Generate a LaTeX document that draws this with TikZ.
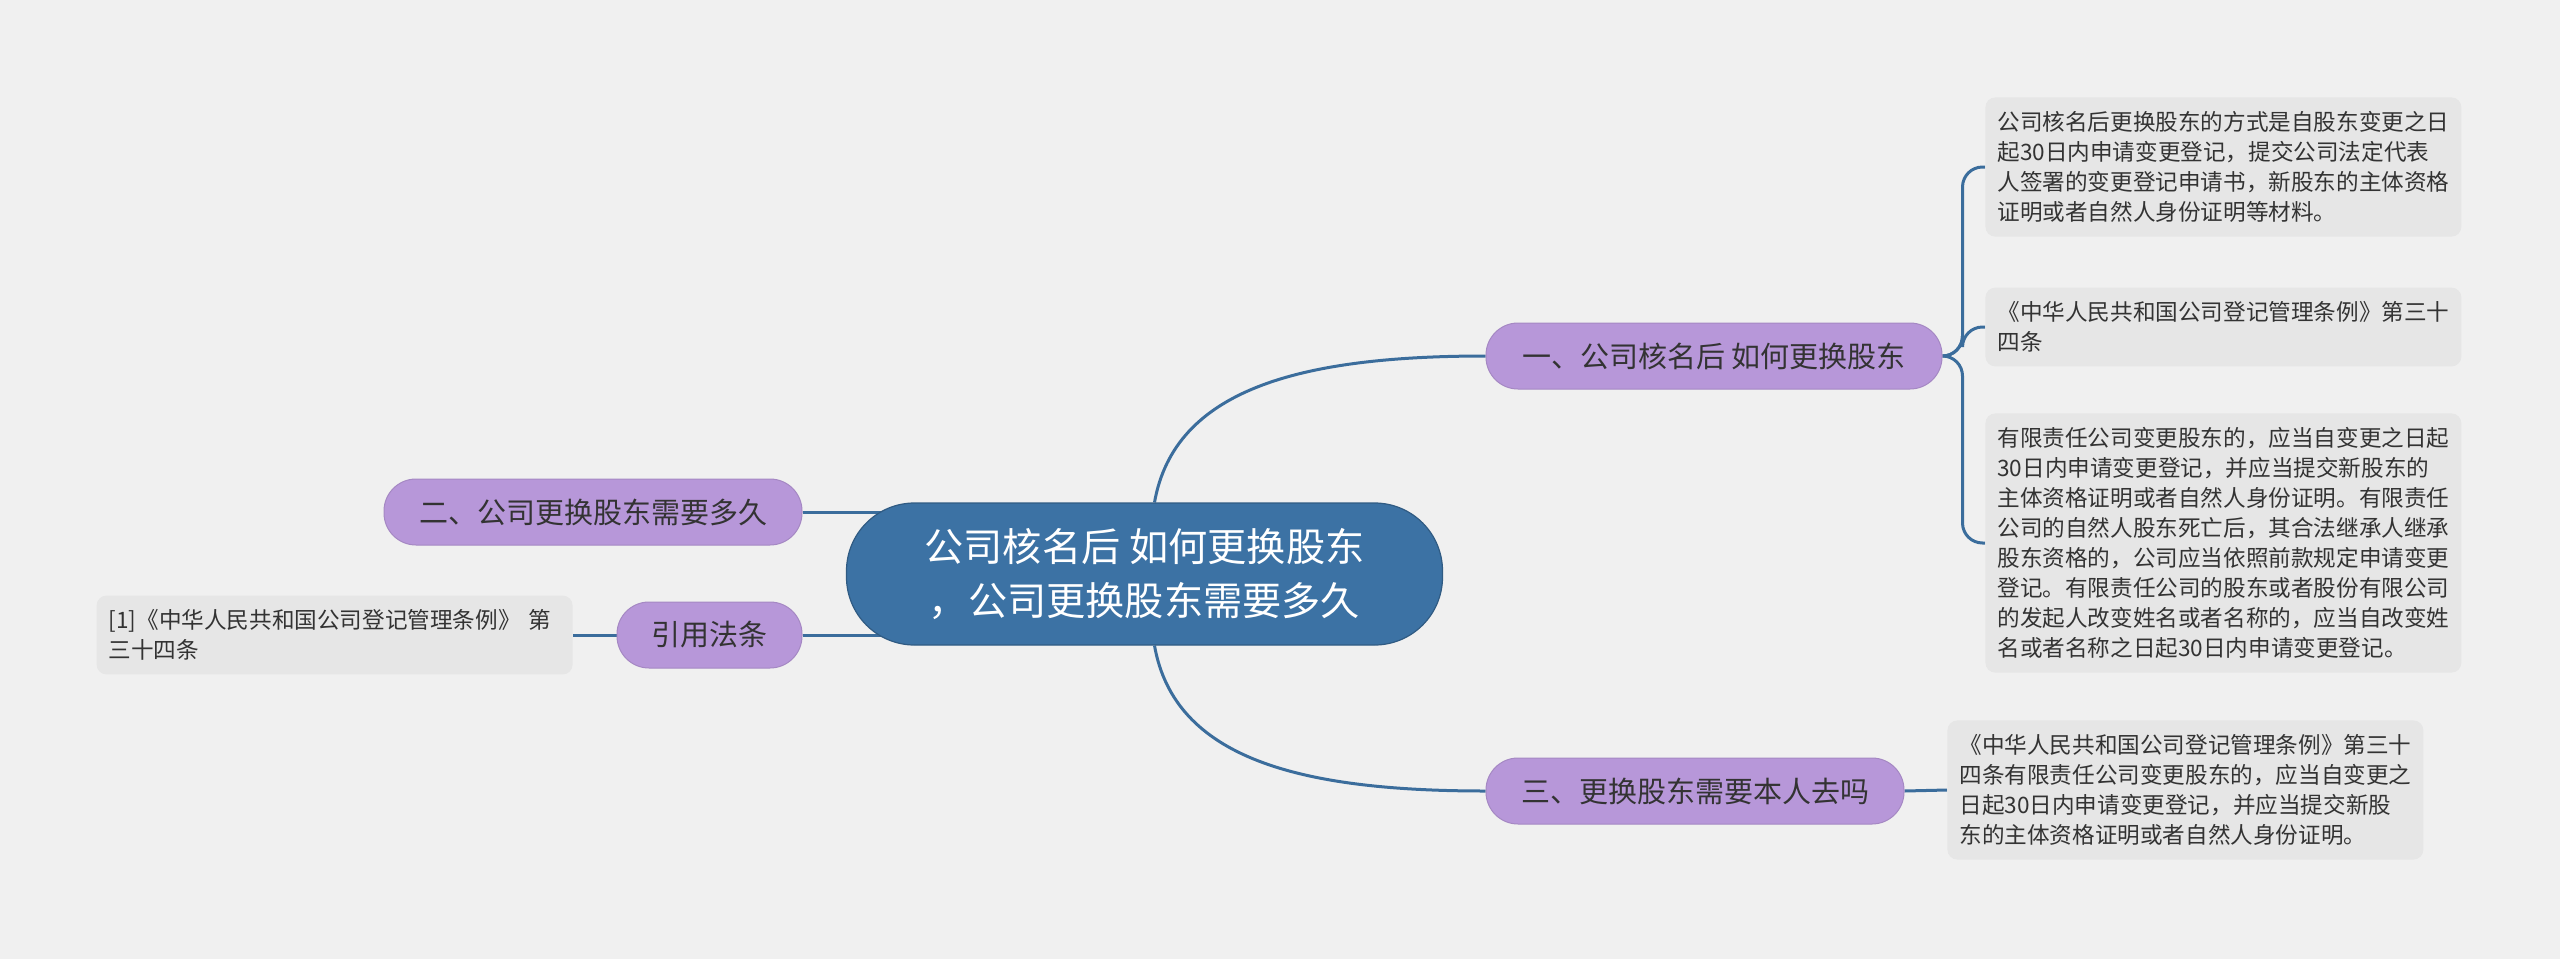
\documentclass[tikz,border=0pt]{standalone}
\usepackage{fontspec}
\setmainfont{Noto Sans CJK SC}
\usetikzlibrary{backgrounds}

\definecolor{bgcol}{HTML}{F0F0F0}
\definecolor{leafcol}{HTML}{E6E6E6}
\definecolor{topiccol}{HTML}{B797D9}
\definecolor{rootcol}{HTML}{3C72A4}
\definecolor{linkcol}{HTML}{3B6D9C}
\definecolor{txtcol}{HTML}{333333}

\begin{document}
\begin{tikzpicture}[x=0.5pt, y=-0.5pt,
  rootbox/.style={fill=rootcol, draw=rootcol!80!black, line width=0.6pt,
    rounded corners=34pt, minimum width=298pt, minimum height=71pt,
    text=white, align=center, font=\fontsize{19.6}{27}\selectfont},
  topic/.style={fill=topiccol, draw=topiccol!90!black, line width=0.5pt,
    rounded corners=16pt, minimum height=33pt, text=txtcol,
    font=\fontsize{14.5}{18}\selectfont},
  leaf/.style={fill=leafcol, rounded corners=5pt, text=txtcol, align=left,
    text width=226pt, inner xsep=6pt, inner ysep=7pt,
    font=\fontsize{11.3}{15}\selectfont},
  link/.style={draw=linkcol, line width=1.5pt}]
  \useasboundingbox (0,0) rectangle (2560,959);

  % Root
  \node[rootbox] (root) at (1144.5,574) {公司核名后 如何更换股东\\，公司更换股东需要多久};

  % Main topics
  \node[topic, minimum width=228pt] (b1) at (1714,356) {一、公司核名后 如何更换股东};
  \node[topic, minimum width=209pt] (b3) at (1695,791) {三、更换股东需要本人去吗};
  \node[topic, minimum width=209pt] (b2) at (593,512) {二、公司更换股东需要多久};
  \node[topic, minimum width=92.5pt] (law) at (709.5,635) {引用法条};

  % Leaves
  \node[leaf, anchor=west] (l1a) at (1985,167)
    {公司核名后更换股东的方式是自股东变更之日\\起30日内申请变更登记，提交公司法定代表\\人签署的变更登记申请书，新股东的主体资格\\证明或者自然人身份证明等材料。};
  \node[leaf, anchor=west] (l1b) at (1985,327)
    {《中华人民共和国公司登记管理条例》第三十\\四条};
  \node[leaf, anchor=west] (l1c) at (1985,543)
    {有限责任公司变更股东的，应当自变更之日起\\30日内申请变更登记，并应当提交新股东的\\主体资格证明或者自然人身份证明。有限责任\\公司的自然人股东死亡后，其合法继承人继承\\股东资格的，公司应当依照前款规定申请变更\\登记。有限责任公司的股东或者股份有限公司\\的发起人改变姓名或者名称的，应当自改变姓\\名或者名称之日起30日内申请变更登记。};
  \node[leaf, anchor=west] (l3a) at (1947,790)
    {《中华人民共和国公司登记管理条例》第三十\\四条有限责任公司变更股东的，应当自变更之\\日起30日内申请变更登记，并应当提交新股\\东的主体资格证明或者自然人身份证明。};
  \node[leaf, anchor=east] (lref) at (573,635)
    {[1]《中华人民共和国公司登记管理条例》 第\\三十四条};

  % Connectors
  \begin{pgfonlayer}{background}
    \fill[bgcol] (0,0) rectangle (2560,959);
    \draw[link] ([xshift=5pt]root.north) .. controls +(20,-113) and +(-186,0) .. (b1.west);
    \draw[link] ([xshift=5pt]root.south) .. controls +(20,113) and +(-186,0) .. (b3.west);
    \draw[link] (b2.east) -- (root.center |- b2.east);
    \draw[link] (law.east) -- (root.center |- law.east);
    \draw[link] (lref.east) -- (law.west);
    \draw[link] (b3.east) -- (l3a.west);
    \foreach \leafname in {l1a,l1b,l1c}
      \draw[link, rounded corners=10pt] (b1.east) -- ++(20,0) |- (\leafname.west);
  \end{pgfonlayer}
\end{tikzpicture}
\end{document}
